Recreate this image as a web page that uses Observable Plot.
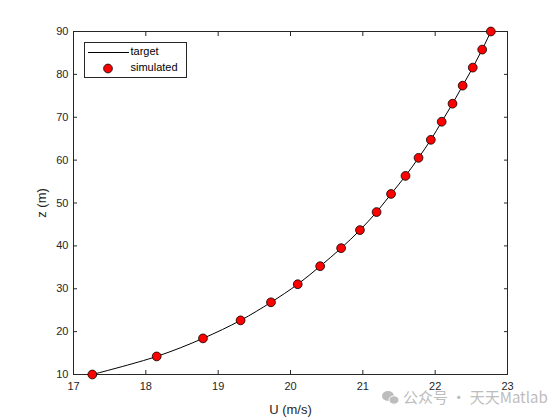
<!DOCTYPE html>
<html><head><meta charset="utf-8">
<script src="https://cdn.jsdelivr.net/npm/d3@7"></script>
<script src="https://cdn.jsdelivr.net/npm/@observablehq/plot@0.6"></script>
<style>
body{margin:0;background:#fff}
#chart{position:relative;width:560px;height:420px}
</style>
</head><body><div id="chart"></div>
<script>
const heights = [10, 14.21, 18.42, 22.63, 26.84, 31.05, 35.26, 39.47, 43.68, 47.89,
                 52.11, 56.32, 60.53, 64.74, 68.95, 73.16, 77.37, 81.58, 85.79, 90];
const speeds = [17.26, 18.15, 18.79, 19.31, 19.73, 20.10, 20.41, 20.70, 20.96, 21.19,
                21.39, 21.59, 21.77, 21.94, 22.09, 22.24, 22.38, 22.52, 22.65, 22.77];
const xTicks = [17, 18, 19, 20, 21, 22, 23];
const yTicks = [10, 20, 30, 40, 50, 60, 70, 80, 90];
const seriesNames = ["target", "simulated"];
const xLabel = "U (m/s)";
const yLabel = "z (m)";
const watermark = "公众号 · 天天Matlab";

const data = heights.map((z, i) => ({z, U: speeds[i]}));
const ink = "#262626";
const font = '"Liberation Sans", Arial, Helvetica, sans-serif';

const chart = Plot.plot({
  width: 560, height: 420,
  marginLeft: 73, marginRight: 53, marginTop: 31, marginBottom: 46,
  style: {fontFamily: font, fontSize: "11px", color: ink, background: "white", overflow: "visible"},
  x: {domain: [17, 23]},
  y: {domain: [10, 90]},
  marks: [
    Plot.axisX({anchor: "bottom", ticks: xTicks, tickSize: 4, dy: -4, tickFormat: () => "", label: null}),
    Plot.axisX({anchor: "top", ticks: xTicks, tickSize: 4, dy: 4, tickFormat: () => "", label: null}),
    Plot.axisY({anchor: "left", ticks: yTicks, tickSize: 4, dx: 4, tickFormat: () => "", label: null}),
    Plot.axisY({anchor: "right", ticks: yTicks, tickSize: 4, dx: -4, tickFormat: () => "", label: null}),
    Plot.axisX({anchor: "bottom", ticks: xTicks, tickSize: 0, tickPadding: 8, tickFormat: d => String(d),
      label: xLabel, labelAnchor: "center", labelArrow: "none", labelOffset: 39}),
    Plot.axisY({anchor: "left", ticks: yTicks, tickSize: 0, tickPadding: 5, tickFormat: d => String(d),
      label: yLabel, labelAnchor: "center", labelArrow: "none", labelOffset: 37}),
    Plot.frame({stroke: ink, strokeWidth: 1}),
    Plot.line(data, {x: "U", y: "z", stroke: "black", strokeWidth: 1, curve: "catmull-rom"}),
    Plot.dot(data, {x: "U", y: "z", r: 4.4, fill: "#ff0000", stroke: "black", strokeWidth: 0.8})
  ]
});
document.getElementById("chart").appendChild(chart);

const svg = d3.select(chart);
svg.selectAll("g[aria-label='x-axis label'] text, g[aria-label='y-axis label'] text")
  .style("font-size", "13px");

// watermark (behind everything)
const wm = svg.insert("g", ":first-child").attr("fill", "#bdbdbd");
wm.append("ellipse").attr("cx", 388).attr("cy", 396).attr("rx", 6).attr("ry", 5);
wm.append("ellipse").attr("cx", 394).attr("cy", 400).attr("rx", 5).attr("ry", 4.2)
  .attr("stroke", "white").attr("stroke-width", 1);
wm.append("text").attr("x", 403).attr("y", 399).attr("dominant-baseline", "middle")
  .attr("text-anchor", "start")
  .style("font-family", '"Noto Sans CJK SC", "Noto Sans", sans-serif').style("font-size", "15px")
  .text(watermark);

// legend
const lg = svg.append("g");
lg.append("rect").attr("x", 84.5).attr("y", 42.5).attr("width", 102).attr("height", 35)
  .attr("fill", "white").attr("stroke", ink).attr("stroke-width", 1);
lg.append("line").attr("x1", 88).attr("x2", 129).attr("y1", 52.5).attr("y2", 52.5)
  .attr("stroke", "black").attr("stroke-width", 1);
lg.append("circle").attr("cx", 108).attr("cy", 68.5).attr("r", 4.4)
  .attr("fill", "#ff0000").attr("stroke", "black").attr("stroke-width", 0.8);
lg.selectAll("text").data(seriesNames).join("text")
  .attr("x", 130.5).attr("y", (d, i) => i ? 68.5 : 52.5).attr("dominant-baseline", "middle")
  .attr("text-anchor", "start")
  .style("font-family", font).style("font-size", "11px").attr("fill", "black").text(d => d);
</script>
</body></html>
